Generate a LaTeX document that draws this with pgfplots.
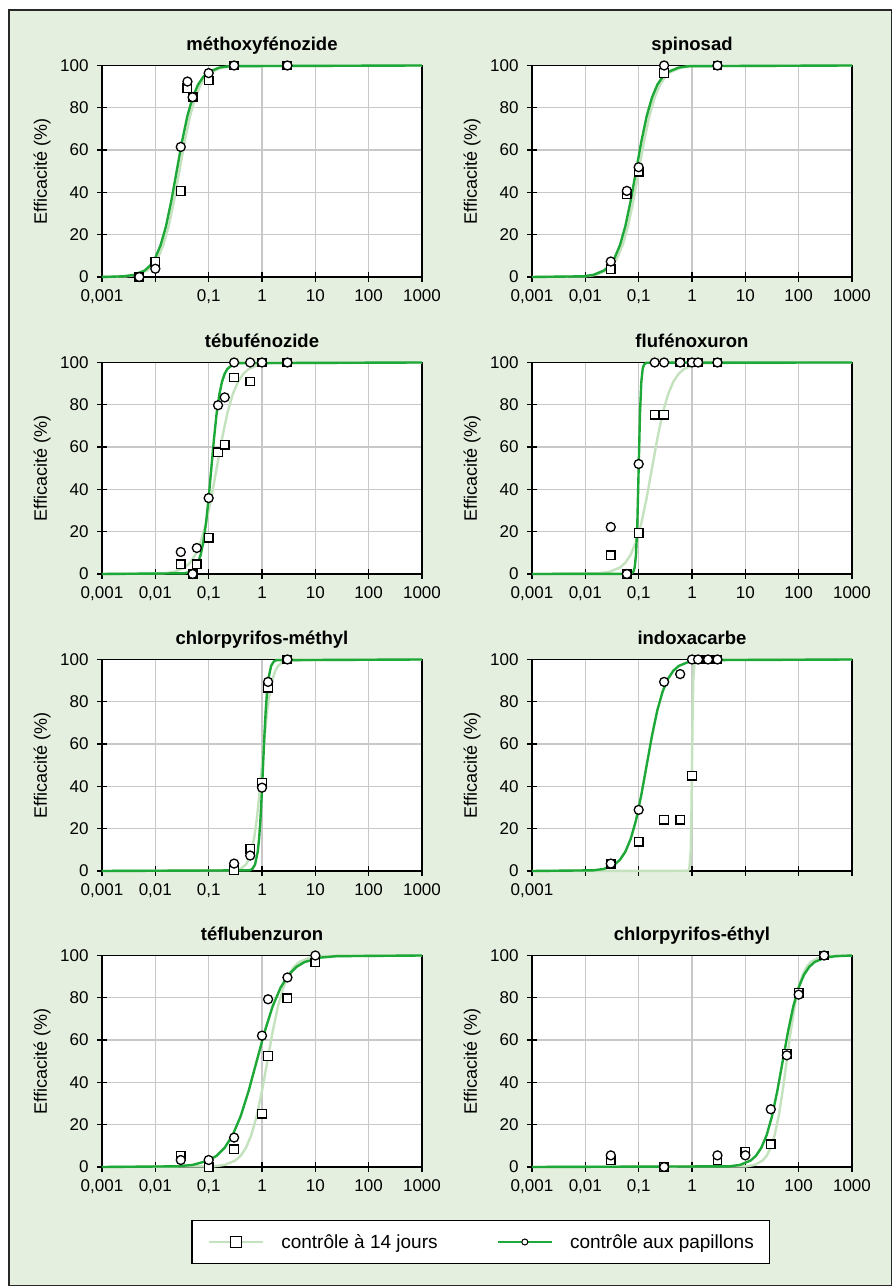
\documentclass[border=0pt]{standalone}
\usepackage{pgfplots}
\pgfplotsset{compat=1.18}
\usepackage{fontspec}
\setmainfont{Liberation Sans}
\definecolor{bg}{RGB}{228,239,223}
\definecolor{dg}{RGB}{30,168,55}
\definecolor{lg}{RGB}{196,226,190}
\definecolor{gridc}{RGB}{200,200,200}
\definecolor{framec}{RGB}{40,40,40}

\pgfplotsset{
  chartpanel/.style={
    scale only axis, width=320pt, height=211.5pt,
    xmin=0.001, xmax=1000, ymin=0, ymax=100,
    xtick={0.001,0.01,0.1,1,10,100,1000},
    xticklabels={{0,001},{0,01},{0,1},1,10,100,1000},
    xminorticks=false, xminorgrids=false,
    ytick={0,20,40,60,80,100},
    yticklabels={0,20,40,60,80,100},
    xtick pos=bottom, ytick pos=left,
    grid=major,
    major grid style={draw=gridc, line width=1.3pt},
    axis line style={line width=1.8pt, black},
    tick style={black, line width=1.3pt},
    major tick length=10pt,
    tick align=center,
    axis background/.style={fill=white},
    clip=false,
    tick label style={font=\fontsize{17}{17}\selectfont},
    xticklabel style={yshift=-4pt},
    yticklabel style={xshift=-5pt},
    title style={font=\bfseries\fontsize{18.5}{18.5}\selectfont, anchor=base, at={(0.5,1)}, yshift=9pt},
    ylabel={Efficacité (\%)},
    ylabel style={font=\fontsize{18}{18}\selectfont, at={(axis description cs:-0.1875,0.5)}, anchor=center},
  },
  lightline/.style={color=lg, line width=2.4pt, mark=none},
  darkline/.style={color=dg, line width=2.4pt, mark=none},
  sqm/.style={only marks, mark=square*, mark size=4.3pt, mark options={fill=white, draw=black, line width=1.3pt}},
  cim/.style={only marks, mark=*, mark size=4.5pt, mark options={fill=white, draw=black, line width=1.3pt}},
}

\begin{document}
\begin{tikzpicture}
\useasboundingbox (0,0) rectangle (892pt,1286pt);
\fill[white] (0,0) rectangle (892pt,1286pt);
\filldraw[fill=bg, draw=framec, line width=2pt] (9pt,1276pt) rectangle (892pt,0pt);

% 1 methoxyfenozide
\begin{axis}[xmode=log, chartpanel, at={(102pt,1009pt)}, anchor=south west, title={méthoxyfénozide},
  xticklabels={{0,001},{},{0,1},1,10,100,1000}]
\addplot[lightline] coordinates {(0.001,0)(0.0028184,0.315)(0.0044668,0.99)(0.0070795,3.07)(0.0089125,5.32)(0.01122,9.09)(0.014125,15.1)(0.017783,24.0)(0.022387,36.0)(0.028184,50)(0.035481,64.0)(0.044668,76.0)(0.056234,84.9)(0.070795,90.9)(0.089125,94.68)(0.1122,96.93)(0.17783,99.01)(0.28184,99.685)(1000,100)};
\addplot[darkline] coordinates {(0.001,0)(0.0025119,0.315)(0.0039811,0.99)(0.0063096,3.07)(0.0079433,5.32)(0.01,9.09)(0.012589,15.1)(0.015849,24.0)(0.019953,36.0)(0.025119,50)(0.031623,64.0)(0.039811,76.0)(0.050119,84.9)(0.063096,90.9)(0.079433,94.68)(0.1,96.93)(0.15849,99.01)(0.25119,99.685)(1000,100)};
\addplot[sqm] coordinates {(0.005,0)(0.01,7.3)(0.03,40.7)(0.04,89.3)(0.05,84.9)(0.1,92.9)(0.3,100)(3,100)};
\addplot[cim] coordinates {(0.005,0)(0.01,3.9)(0.03,61.5)(0.04,92.4)(0.05,85)(0.1,96.4)(0.3,100)(3,100)};
\end{axis}

% 2 spinosad
\begin{axis}[xmode=log, chartpanel, at={(532pt,1009pt)}, anchor=south west, title={spinosad}]
\addplot[lightline] coordinates {(0.001,0)(0.01,0.315)(0.015849,0.99)(0.025119,3.07)(0.031623,5.32)(0.039811,9.09)(0.050119,15.1)(0.063096,24.0)(0.079433,36.0)(0.1,50)(0.12589,64.0)(0.15849,76.0)(0.19953,84.9)(0.25119,90.9)(0.31623,94.68)(0.39811,96.93)(0.63096,99.01)(1,99.685)(1000,100)};
\addplot[darkline] coordinates {(0.001,0)(0.0089125,0.315)(0.014125,0.99)(0.022387,3.07)(0.028184,5.32)(0.035481,9.09)(0.044668,15.1)(0.056234,24.0)(0.070795,36.0)(0.089125,50)(0.1122,64.0)(0.14125,76.0)(0.17783,84.9)(0.22387,90.9)(0.28184,94.68)(0.35481,96.93)(0.56234,99.01)(0.89125,99.685)(1000,100)};
\addplot[sqm] coordinates {(0.03,3.6)(0.06,39.1)(0.1,49.8)(0.3,96.4)(3,100)};
\addplot[cim] coordinates {(0.03,7.3)(0.06,40.7)(0.1,51.9)(0.3,100)(3,100)};
\end{axis}

% 3 tebufenozide
\begin{axis}[xmode=log, chartpanel, at={(102pt,712pt)}, anchor=south west, title={tébufénozide}]
\addplot[lightline] coordinates {(0.001,0)(0.014125,0.315)(0.022387,0.99)(0.035481,3.07)(0.044668,5.32)(0.056234,9.09)(0.070795,15.1)(0.089125,24.0)(0.1122,36.0)(0.14125,50)(0.17783,64.0)(0.22387,76.0)(0.28184,84.9)(0.35481,90.9)(0.44668,94.68)(0.56234,96.93)(0.89125,99.01)(1.4125,99.685)(1000,100)};
\addplot[darkline] coordinates {(0.001,0)(0.035481,0.315)(0.044668,0.99)(0.056234,3.07)(0.063096,5.32)(0.070795,9.09)(0.079433,15.1)(0.089125,24.0)(0.1,36.0)(0.1122,50)(0.12589,64.0)(0.14125,76.0)(0.15849,84.9)(0.17783,90.9)(0.19953,94.68)(0.22387,96.93)(0.28184,99.01)(0.35481,99.685)(1000,100)};
\addplot[sqm] coordinates {(0.03,4.6)(0.05,0)(0.06,4.6)(0.1,17.2)(0.15,57.6)(0.2,61.1)(0.3,92.9)(0.6,91)(1,100)(3,100)};
\addplot[cim] coordinates {(0.03,10.4)(0.05,0)(0.06,12.3)(0.1,35.9)(0.15,79.8)(0.2,83.5)(0.3,100)(0.6,100)(1,100)(3,100)};
\end{axis}

% 4 flufenoxuron
\begin{axis}[xmode=log, chartpanel, at={(532pt,712pt)}, anchor=south west, title={flufénoxuron}]
\addplot[lightline] coordinates {(0.001,0)(0.017783,0.315)(0.028184,0.99)(0.044668,3.07)(0.056234,5.32)(0.070795,9.09)(0.089125,15.1)(0.1122,24.0)(0.14125,36.0)(0.17783,50)(0.22387,64.0)(0.28184,76.0)(0.35481,84.9)(0.44668,90.9)(0.56234,94.68)(0.70795,96.93)(1.122,99.01)(1.7783,99.685)(1000,100)};
\addplot[darkline] coordinates {(0.001,0)(0.07079,0.1)(0.07943,0.99)(0.08414,3.07)(0.08913,9.09)(0.09441,24.0)(0.1,50)(0.10593,76.0)(0.1122,90.9)(0.11885,96.93)(0.12589,99.01)(0.14125,99.9)(1000,100)};
\addplot[sqm] coordinates {(0.03,8.8)(0.06,0)(0.1,19.4)(0.2,75.3)(0.3,75.3)(0.6,100)(1,100)(1.3,100)(3,100)};
\addplot[cim] coordinates {(0.03,22.2)(0.06,0)(0.1,52)(0.2,100)(0.3,100)(0.6,100)(1,100)(1.3,100)(3,100)};
\end{axis}

% 5 chlorpyrifos-methyl
\begin{axis}[xmode=log, chartpanel, at={(102pt,415pt)}, anchor=south west, title={chlorpyrifos-méthyl}]
\addplot[lightline] coordinates {(0.001,0)(0.31623,0.315)(0.39811,0.99)(0.50119,3.07)(0.56234,5.32)(0.63096,9.09)(0.70795,15.1)(0.79433,24.0)(0.89125,36.0)(1,50)(1.122,64.0)(1.2589,76.0)(1.4125,84.9)(1.5849,90.9)(1.7783,94.68)(1.9953,96.93)(2.5119,99.01)(3.1623,99.685)(1000,100)};
\addplot[darkline] coordinates {(0.001,0)(0.5888,0.315)(0.6607,0.99)(0.7413,3.07)(0.8318,9.09)(0.881,15.1)(0.9333,24.0)(0.9886,36.0)(1.0471,50)(1.1092,64.0)(1.1749,76.0)(1.2445,84.9)(1.3183,90.9)(1.4791,96.93)(1.6596,99.01)(1.8621,99.685)(1000,100)};
\addplot[sqm] coordinates {(0.3,0.3)(0.6,10.6)(1,41.6)(1.3,86.6)(3,100)};
\addplot[cim] coordinates {(0.3,3.5)(0.6,7.3)(1,39.4)(1.3,89.4)(3,100)};
\end{axis}

% 6 indoxacarbe
\begin{axis}[xmode=log, chartpanel, at={(532pt,415pt)}, anchor=south west, title={indoxacarbe},
  xticklabels={{0,001},{},{},{},{},{},{}}]
\addplot[lightline] coordinates {(0.001,0)(0.8414,0.1)(0.8913,0.99)(0.9441,9.09)(0.9716,24.0)(1,50)(1.0292,76.0)(1.0593,90.9)(1.122,99.01)(1.1885,99.9)(1000,100)};
\addplot[darkline] coordinates {(0.001,0)(0.014125,0.315)(0.022387,0.99)(0.035481,3.07)(0.044668,5.32)(0.056234,9.09)(0.070795,15.1)(0.089125,24.0)(0.1122,36.0)(0.14125,50)(0.17783,64.0)(0.22387,76.0)(0.28184,84.9)(0.35481,90.9)(0.44668,94.68)(0.56234,96.93)(0.89125,99.01)(1.4125,99.685)(1000,100)};
\addplot[sqm] coordinates {(0.03,3.5)(0.1,13.9)(0.3,24.3)(0.6,24.3)(1,45)(1.3,100)(2,100)(3,100)};
\addplot[cim] coordinates {(0.03,3.5)(0.1,28.9)(0.3,89.4)(0.6,93.1)(1,100)(1.3,100)(2,100)(3,100)};
\end{axis}

% 7 teflubenzuron
\begin{axis}[xmode=log, chartpanel, at={(102pt,119pt)}, anchor=south west, title={téflubenzuron},
  legend columns=2,
  legend cell align=left,
  legend image code/.code={\draw[mark repeat=2,mark phase=2,#1] plot coordinates {(0pt,0pt) (27pt,0pt) (54pt,0pt)};},
  legend style={at={(axis description cs:1.184,-0.3546)}, anchor=center, draw=black, line width=1.3pt, fill=white,
    inner xsep=16pt, inner ysep=14pt, font=\fontsize{19}{19}\selectfont,
    nodes={inner sep=0pt},
    /tikz/every odd column/.append style={column sep=17pt},
    /tikz/every even column/.append style={column sep=59pt}}]
\addplot[lightline, forget plot] coordinates {(0.001,0)(0.12589,0.315)(0.19953,0.99)(0.31623,3.07)(0.39811,5.32)(0.50119,9.09)(0.63096,15.1)(0.79433,24.0)(1,36.0)(1.2589,50)(1.5849,64.0)(1.9953,76.0)(2.5119,84.9)(3.1623,90.9)(3.9811,94.68)(5.0119,96.93)(7.9433,99.01)(12.589,99.685)(1000,100)};
\addplot[darkline, forget plot] coordinates {(0.001,0)(0.025119,0.315)(0.050119,0.99)(0.1,3.07)(0.14125,5.32)(0.19953,9.09)(0.28184,15.1)(0.39811,24.0)(0.56234,36.0)(0.79433,50)(1.122,64.0)(1.5849,76.0)(2.2387,84.9)(3.1623,90.9)(4.4668,94.68)(6.3096,96.93)(12.589,99.01)(25.119,99.685)(1000,100)};
\addplot[sqm, forget plot] coordinates {(0.03,5.2)(0.1,0)(0.3,8.4)(1,25.2)(1.3,52.5)(3,79.7)(10,96.7)};
\addplot[cim, forget plot] coordinates {(0.03,3.3)(0.1,3.3)(0.3,13.9)(1,62.1)(1.3,79.3)(3,89.6)(10,100)};
\addlegendimage{color=lg, line width=2.4pt, mark=square*, mark size=5.5pt, mark options={fill=white, draw=black, line width=1.3pt}}
\addlegendentry{contrôle à 14 jours}
\addlegendimage{color=dg, line width=2.4pt, mark=*, mark size=3pt, mark options={fill=white, draw=black, line width=1pt}}
\addlegendentry{contrôle aux papillons}
\end{axis}

% 8 chlorpyrifos-ethyl
\begin{axis}[xmode=log, chartpanel, at={(532pt,119pt)}, anchor=south west, title={chlorpyrifos-éthyl}]
\addplot[lightline] coordinates {(0.001,0)(10.593,0.315)(14.962,0.99)(21.135,3.07)(25.119,5.32)(29.854,9.09)(35.481,15.1)(42.17,24.0)(50.119,36.0)(59.566,50)(70.795,64.0)(84.14,76.0)(100,84.9)(118.85,90.9)(141.25,94.68)(167.88,96.93)(237.14,99.01)(334.97,99.685)(1000,100)};
\addplot[darkline] coordinates {(0.001,0)(5.0119,0.315)(7.9433,0.99)(12.589,3.07)(15.849,5.32)(19.953,9.09)(25.119,15.1)(31.623,24.0)(39.811,36.0)(50.119,50)(63.096,64.0)(79.433,76.0)(100,84.9)(125.89,90.9)(158.49,94.68)(199.53,96.93)(316.23,99.01)(501.19,99.685)(1000,100)};
\addplot[sqm] coordinates {(0.03,3.3)(0.3,0)(3,3.3)(10,7.3)(30,10.7)(60,53.5)(100,82.2)(300,100)};
\addplot[cim] coordinates {(0.03,5.5)(0.3,0)(3,5.5)(10,5.5)(30,27.3)(60,52.8)(100,81.5)(300,100)};
\end{axis}
\end{tikzpicture}
\end{document}
